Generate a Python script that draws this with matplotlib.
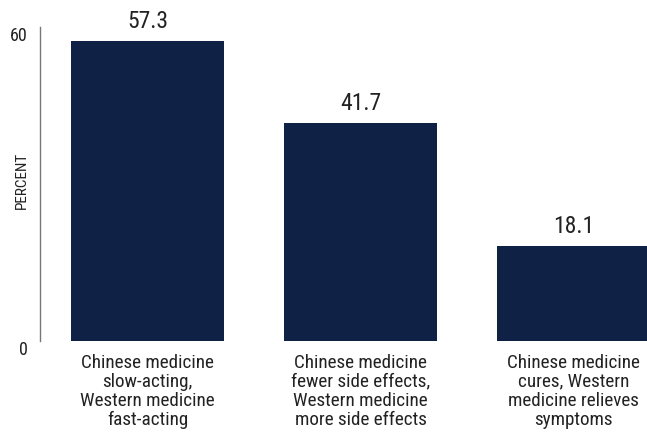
import matplotlib
matplotlib.use("Agg")
import matplotlib.pyplot as plt

categories = [
    "Chinese medicine\nslow-acting,\nWestern medicine\nfast-acting",
    "Chinese medicine\nfewer side effects,\nWestern medicine\nmore side effects",
    "Chinese medicine\ncures, Western\nmedicine relieves\nsymptoms",
]
values = [57.3, 41.7, 18.1]
value_labels = ["57.3", "41.7", "18.1"]
y_ticks = [0, 60]

plt.rcParams["font.family"] = ["Roboto Condensed", "Roboto", "DejaVu Sans"]
text_color = "#222222"
bar_color = "#0f2245"

fig = plt.figure(figsize=(6.47, 4.34), dpi=100)
ax = fig.add_axes([40 / 647, 93 / 434, 1 - 40 / 647, 314 / 434])

x = list(range(len(values)))
ax.bar(x, values, width=0.72, color=bar_color)

for xi, v, lab in zip(x, values, value_labels):
    ax.text(xi, v + 1.5, lab, ha="center", va="bottom", fontsize=17, color=text_color)

for xi, cat in zip(x, categories):
    ax.text(xi, -2.4, cat, ha="center", va="top", fontsize=13.8, color=text_color,
            linespacing=1.08)

ax.set_xlim(-0.505, 2.345)
ax.set_ylim(0, 60)
ax.set_xticks([])
ax.set_yticks(y_ticks)
ax.set_yticklabels([str(t) for t in y_ticks], fontsize=13, color=text_color, va="top")
ax.tick_params(axis="y", length=0, pad=9)
fig.text(22 / 647, 1 - 180 / 434, "PERCENT", rotation=90, ha="center", va="center",
         fontsize=11, color=text_color)

for s in ["top", "right", "bottom"]:
    ax.spines[s].set_visible(False)
ax.spines["left"].set_color("#777777")
ax.spines["left"].set_linewidth(1)

fig.savefig("out.png", dpi=100)
